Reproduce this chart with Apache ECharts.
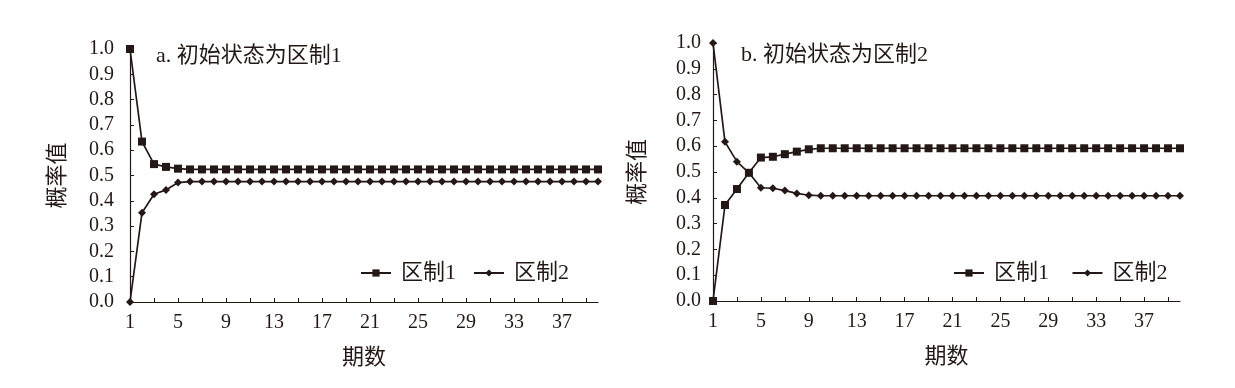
<!DOCTYPE html>
<html>
<head>
<meta charset="utf-8">
<script src="https://cdn.jsdelivr.net/npm/echarts@6/dist/echarts.min.js"></script>
<style>
html,body{margin:0;padding:0;background:#fff;}
#c{width:1235px;height:388px;}
</style>
</head>
<body>
<div id="c"></div>
<script>
// ---- data ----
var periods = [];
for (var p = 1; p <= 40; p++) periods.push(String(p));

function steady(head, v, n) { var a = head.slice(); while (a.length < n) a.push(v); return a; }

var panelATitle = 'a. 初始状态为区制1';
var panelBTitle = 'b. 初始状态为区制2';
var seriesNames = ['区制1', '区制2'];

// Panel a: initial state regime 1
var a_regime1 = steady([1.0, 0.634, 0.545, 0.534, 0.527], 0.524, 40);
var a_regime2 = steady([0.0, 0.353, 0.426, 0.443, 0.472], 0.476, 40);
// Panel b: initial state regime 2
var b_regime1 = steady([0.0, 0.372, 0.434, 0.497, 0.556, 0.559, 0.569, 0.579, 0.588], 0.592, 40);
var b_regime2 = steady([1.0, 0.617, 0.540, 0.497, 0.439, 0.437, 0.428, 0.417, 0.410], 0.408, 40);

var yTicks = [0, 1, 0.1];

// ---- chart ----
var ink = '#231815';
var font = '"Liberation Serif", "Times New Roman", "Noto Sans CJK SC", serif';
var chart = echarts.init(document.getElementById('c'), null, {renderer: 'canvas'});

function xAxis(gi) {
  return {
    type: 'category', gridIndex: gi, data: periods, boundaryGap: false,
    name: '期数', nameLocation: 'middle', nameGap: 45,
    nameTextStyle: {color: ink, fontSize: 22, fontFamily: font},
    axisLine: {lineStyle: {color: ink, width: 1.2}},
    axisTick: {inside: true, length: 4, interval: 1, lineStyle: {color: ink}},
    axisLabel: {interval: 3, color: ink, fontSize: 20, fontFamily: font, margin: 11},
    splitLine: {show: false}
  };
}
function yAxis(gi, gap, margin) {
  return {
    type: 'value', gridIndex: gi, min: yTicks[0], max: yTicks[1], interval: yTicks[2],
    name: '概率值', nameLocation: 'middle', nameGap: gap, nameRotate: 90,
    nameTextStyle: {color: ink, fontSize: 22, fontFamily: font},
    axisLine: {show: true, lineStyle: {color: ink, width: 1.2}},
    axisTick: {show: true, inside: true, length: 4, lineStyle: {color: ink}},
    axisLabel: {color: ink, fontSize: 20, fontFamily: font, margin: margin, padding: [5, 0, 0, 0],
      formatter: function (v) { return v.toFixed(1); }},
    splitLine: {show: false}
  };
}
function line(name, data, gi, sym, size) {
  return {
    name: name, type: 'line', xAxisIndex: gi, yAxisIndex: gi, data: data,
    symbol: sym, symbolSize: size, showSymbol: true, showAllSymbol: true,
    lineStyle: {color: ink, width: 1.7},
    itemStyle: {color: ink},
    animation: false
  };
}
function legend(left, names) {
  return {left: left, top: 257, itemWidth: 30, itemHeight: 9, itemGap: 17,
    textStyle: {color: ink, fontSize: 22, fontFamily: font, padding: [0, 0, 0, 5]},
    data: names.map(function (n) { return {name: n}; })};
}

chart.setOption({
  backgroundColor: '#fff',
  animation: false,
  textStyle: {fontFamily: font},
  title: [
    {text: panelATitle, left: 151, top: 40, textStyle: {color: ink, fontSize: 22, fontWeight: 'normal', fontFamily: font}},
    {text: panelBTitle, left: 736, top: 39, textStyle: {color: ink, fontSize: 22, fontWeight: 'normal', fontFamily: font}}
  ],
  grid: [
    {left: 130, top: 49, width: 468, height: 253},
    {left: 713, top: 43, width: 467, height: 258}
  ],
  xAxis: [xAxis(0), xAxis(1)],
  yAxis: [yAxis(0, 61, 16), yAxis(1, 64, 12)],
  legend: [
    legend(355, [seriesNames[0], seriesNames[1]]),
    legend(948, [seriesNames[0] + ' ', seriesNames[1] + ' '])
  ],
  series: [
    line(seriesNames[0], a_regime1, 0, 'rect', 8),
    line(seriesNames[1], a_regime2, 0, 'diamond', 8),
    line(seriesNames[0] + ' ', b_regime1, 1, 'rect', 8),
    line(seriesNames[1] + ' ', b_regime2, 1, 'diamond', 8)
  ]
});
</script>
</body>
</html>
